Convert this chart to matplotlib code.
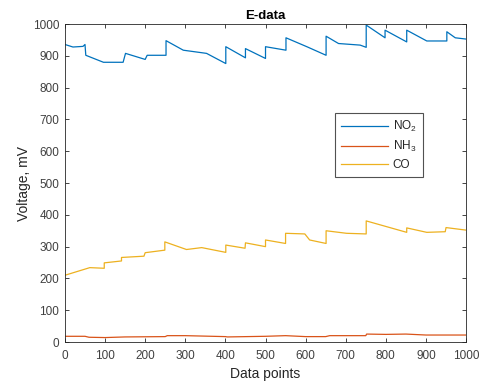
import matplotlib.pyplot as plt

# keypoints (data points, mV)
no2_x = [0, 20, 45, 50, 52, 96, 145, 151, 200, 205, 252, 252, 295, 353, 401, 401, 450, 450,
         500, 500, 551, 551, 603, 651, 651, 682, 736, 751, 751, 798, 798, 852, 852, 902, 952,
         952, 973, 1000]
no2_y = [936, 928, 930, 936, 902, 880, 880, 908, 889, 902, 902, 948, 918, 908, 876, 929, 894, 923,
         892, 929, 918, 957, 929, 902, 962, 939, 934, 927, 997, 957, 981, 944, 981, 947, 947,
         976, 957, 953]

nh3_x = [0, 50, 60, 100, 150, 250, 255, 300, 400, 405, 500, 550, 600, 650, 660, 750, 752, 800,
         850, 900, 950, 1000]
nh3_y = [18, 18, 15, 14, 16, 17, 20, 20, 17, 16, 18, 20, 17, 17, 20, 20, 25, 24, 25, 22, 22, 22]

co_x = [0, 62, 98, 98, 141, 141, 197, 200, 249, 249, 303, 341, 401, 401, 449, 450, 500, 500,
        550, 550, 598, 610, 651, 651, 702, 751, 751, 852, 852, 902, 948, 950, 1000]
co_y = [210, 234, 232, 249, 255, 266, 270, 281, 289, 315, 291, 297, 282, 305, 295, 312, 300, 321,
        310, 342, 340, 321, 310, 350, 342, 340, 381, 345, 359, 345, 347, 360, 352]

series = [("NO$_2$", no2_x, no2_y, "#0072BD"),
          ("NH$_3$", nh3_x, nh3_y, "#D95319"),
          ("CO", co_x, co_y, "#EDB120")]

plt.rcParams['font.family'] = ['Liberation Sans', 'DejaVu Sans']
plt.rcParams['mathtext.fontset'] = 'custom'
plt.rcParams['mathtext.rm'] = 'Liberation Sans'
txt = "#262626"

fig = plt.figure(figsize=(4.81, 3.83), dpi=100)
ax = fig.add_axes([0.135, 0.107, 0.834, 0.83])

for name, xs, ys, col in series:
    ax.plot(xs, ys, color=col, lw=0.9, label=name)

ax.set_xlim(0, 1000)
ax.set_ylim(0, 1000)
ax.set_xticks(range(0, 1001, 100))
ax.set_yticks(range(0, 1001, 100))
ax.tick_params(direction="in", top=True, right=True, length=3, width=0.6,
               labelsize=8.5, colors=txt, labelcolor="#404040")
ax.tick_params(axis="x", pad=6)
ax.tick_params(axis="y", pad=4)
for s in ax.spines.values():
    s.set_linewidth(0.6)
    s.set_color(txt)

ax.set_xlabel("Data points", fontsize=10, color=txt, labelpad=3)
ax.set_ylabel("Voltage, mV", fontsize=10, color=txt, labelpad=1)
ax.set_title("E-data", fontsize=9.5, fontweight="bold", color="black", pad=4)

leg = ax.legend(loc="upper left", bbox_to_anchor=(0.673, 0.72), fontsize=8.5,
                fancybox=False, edgecolor=txt, handlelength=4.0, handletextpad=0.4,
                borderpad=0.5, labelspacing=0.4, borderaxespad=0)
leg.get_frame().set_linewidth(0.8)
for t in leg.get_texts():
    t.set_color(txt)

fig.savefig("out.png", dpi=100)
